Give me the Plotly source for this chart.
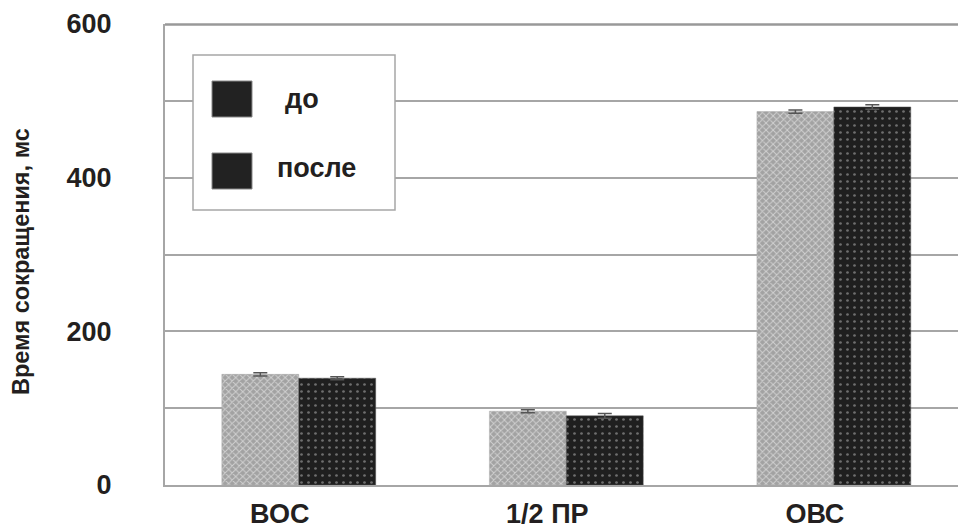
import plotly.graph_objects as go

categories = ["ВОС", "1/2 ПР", "ОВС"]
series_names = ["до", "после"]
before_values = [144, 96, 486]
after_values = [139, 90, 492]
before_err = [2, 2, 2]
after_err = [2, 3, 3]
y_tickvals = [0, 100, 200, 300, 400, 500, 600]
y_ticktext = ["0", "", "200", "", "400", "", "600"]

FONT = "Liberation Sans, Arial, sans-serif"
TXT = "#231f20"
GRID = "#a6a6a6"

W, H = 958, 528
L, R, T, B = 165, 0, 24, 43
pw, ph = W - L - R, H - T - B


def px_x(x):
    return (x - L) / pw


def px_y(y):
    return (H - B - y) / ph


fig = go.Figure()
fig.add_trace(go.Bar(
    x=categories, y=before_values, name=series_names[0], showlegend=False,
    marker=dict(color="#a2a2a2", line=dict(color="#a8a8a8", width=0.5),
                pattern=dict(shape="x", fgcolor="#ffffff", size=5, solidity=0.35)),
    error_y=dict(type="data", array=before_err, color="#555", thickness=1.5, width=7),
))
fig.add_trace(go.Bar(
    x=categories, y=after_values, name=series_names[1], showlegend=False,
    marker=dict(color="#1f1f1f", line=dict(color="#555", width=0.5),
                pattern=dict(shape=".", fgcolor="#bdbdbd", size=7, solidity=0.12)),
    error_y=dict(type="data", array=after_err, color="#555", thickness=1.5, width=7),
))

# manual legend (box, swatches, labels) and top frame line
shapes = [
    dict(type="line", xref="paper", yref="paper", x0=0, x1=1, y0=0.999, y1=0.999,
         line=dict(color="#999999", width=2.5), layer="above"),
    dict(type="rect", xref="paper", yref="paper",
         x0=px_x(193), x1=px_x(395), y0=px_y(210), y1=px_y(55),
         line=dict(color=GRID, width=1.5), fillcolor="white", layer="above"),
    dict(type="rect", xref="paper", yref="paper",
         x0=px_x(212), x1=px_x(252), y0=px_y(117), y1=px_y(81),
         line=dict(color="#888", width=1), fillcolor="#222222", layer="above"),
    dict(type="rect", xref="paper", yref="paper",
         x0=px_x(212), x1=px_x(252), y0=px_y(189), y1=px_y(153),
         line=dict(color="#888", width=1), fillcolor="#222222", layer="above"),
]
annotations = [
    dict(text="<b>%s</b>" % series_names[0], xref="paper", yref="paper",
         x=px_x(302), y=px_y(99), showarrow=False, xanchor="center", yanchor="middle",
         font=dict(family=FONT, size=27, color=TXT)),
    dict(text="<b>%s</b>" % series_names[1], xref="paper", yref="paper",
         x=px_x(316), y=px_y(168), showarrow=False, xanchor="center", yanchor="middle",
         font=dict(family=FONT, size=27, color=TXT)),
    dict(text="<b>Время сокращения, мс</b>", xref="paper", yref="paper",
         x=px_x(21), y=px_y(262), showarrow=False, textangle=-90,
         xanchor="center", yanchor="middle",
         font=dict(family=FONT, size=23.5, color=TXT)),
]

fig.update_layout(
    width=W, height=H,
    margin=dict(l=L, r=R, t=T, b=B, pad=0),
    paper_bgcolor="white", plot_bgcolor="white",
    barmode="group", bargap=0.425, bargroupgap=0,
    showlegend=False,
    shapes=shapes, annotations=annotations,
    font=dict(family=FONT, color=TXT),
)
fig.update_xaxes(
    type="category", range=[-0.5, 2.464], showgrid=False,
    showline=True, linecolor=GRID, linewidth=2, ticks="",
    tickfont=dict(family=FONT, size=27, color=TXT),
    ticklabelshift=-19, ticklabelstandoff=4,
    tickprefix="<b>", ticksuffix="</b>",
)
fig.update_yaxes(
    range=[0, 600], tickvals=y_tickvals,
    ticktext=["<b>%s</b>" % t if t else "" for t in y_ticktext],
    showgrid=True, gridcolor=GRID, gridwidth=1.5,
    showline=True, linecolor=GRID, linewidth=2, zeroline=False, ticks="",
    tickfont=dict(family=FONT, size=27, color=TXT),
    ticklabelstandoff=46,
)

fig.write_html(
    "out.html",
    config={"displayModeBar": False},
    post_script="document.body.style.margin='0';document.body.style.overflow='hidden';",
)
